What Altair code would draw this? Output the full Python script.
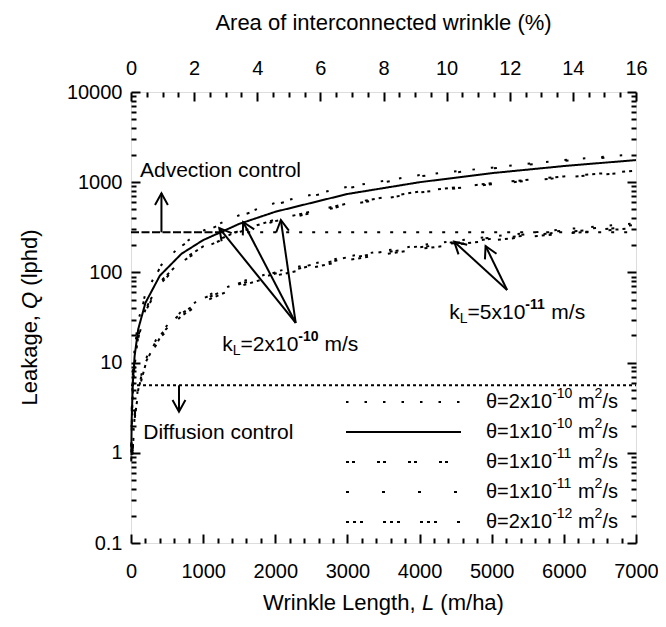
import math
import altair as alt
import pandas as pd

# ---------------- values ----------------
# upper family (k_L = 2x10^-10 m/s)
L_UP = [4, 10, 25, 50, 100, 200, 400, 700, 1000, 1500, 2000, 3000, 4000, 5000, 6000, 7000]
UP_2E10 = [1.2, 3.0, 7.4, 14.5, 29, 58, 116, 203, 290, 430, 590, 890, 1200, 1450, 1760, 2050]
UP_1E10 = [1.0, 2.4, 5.9, 11.8, 23.5, 46, 92, 161, 228, 345, 470, 740, 1000, 1260, 1510, 1760]
UP_1E11A = [0.8, 1.9, 4.6, 9.3, 18.6, 37, 74, 130, 186, 280, 370, 560, 770, 950, 1130, 1300]
UP_1E11B = [1.15, 2.9, 7.1, 14, 28, 56, 112, 196, 280, 420, 570, 860, 1160, 1420, 1720, 2000]
UP_2E12 = [0.85, 2.0, 4.9, 9.8, 19.5, 39, 78, 136, 194, 290, 385, 580, 790, 975, 1160, 1340]

# lower family (k_L = 5x10^-11 m/s)
L_LO = [20, 50, 100, 200, 400, 700, 1000, 1500, 2000, 3000, 4000, 5000, 6000, 7000]
LO_2E10 = [1.1, 2.7, 5.4, 10.8, 21.5, 37, 53, 78, 102, 150, 200, 250, 300, 350]
LO_1E11A = [1.0, 2.5, 5.0, 10, 20, 35, 50, 74, 97, 144, 190, 236, 280, 322]
LO_1E11B = [1.05, 2.6, 5.2, 10.4, 20.8, 36, 51.5, 76, 100, 147, 195, 243, 290, 336]
LO_2E12 = [0.95, 2.35, 4.7, 9.4, 18.8, 33, 47, 70, 92, 137, 182, 227, 270, 310]

KEYS = ["a", "b", "c", "d", "e"]
LEG_BASE = ["θ=2x10", "θ=1x10", "θ=1x10", "θ=1x10", "θ=2x10"]
LEG_EXP = ["-10", "-10", "-11", "-11", "-12"]
DASHES = [[2.5, 16], [1, 0], [3, 3, 3, 22], [3, 33], [3, 4, 3, 4, 3, 20]]

X_TICKS = list(range(0, 7001, 1000))
X_MINOR = [v for v in range(0, 7001, 200) if v % 1000]
P_TICKS = list(range(0, 17, 2))
P_MINOR = [v / 2 for v in range(0, 33) if v % 4]
Y_TICKS = [0.1, 1, 10, 100, 1000, 10000]
Y_MINOR = [m * 10.0 ** e for e in range(-1, 4) for m in range(2, 10)]

ADVECTION_Q = 278
ADV_SPLIT_L = 1250
DIFFUSION_Q = 5.6

# annotation anchors (data units)
ARROWS_L = [422, 665, 2283, 2283, 2283, 5213, 5213]
ARROWS_Q = [278, 5.6, 27.5, 27.5, 27.5, 63.8, 63.8]
TIPS_L = [422, 665, 1224, 1554, 2077, 4480, 4915]
TIPS_Q = [754, 2.86, 310, 362, 381, 219, 196]

# ---------------- layout ----------------
FONT = "Liberation Sans"
W, H = 505, 451
PL, PT, PR, PB = 123, 84, 22, 76


def px(L):
    return L / 7000 * W


def py(Q):
    return H - (math.log10(Q) + 1) / 5 * H


rows = []
for grp, Ls, series in [
    ("up", L_UP, [UP_2E10, UP_1E10, UP_1E11A, UP_1E11B, UP_2E12]),
    ("lo", L_LO, [LO_2E10, None, LO_1E11A, LO_1E11B, LO_2E12]),
]:
    for k, vals in zip(KEYS, series):
        if vals is None:
            continue
        for L, Q in zip(Ls, vals):
            rows.append({"L": L, "Q": Q, "key": k, "grp": grp + k})
curve_df = pd.DataFrame(rows)

xs = alt.Scale(domain=[0, 7000], nice=False, zero=False)
ys = alt.Scale(type="log", domain=[0.1, 10000], nice=False)
ps = alt.Scale(domain=[0, 16], nice=False, zero=False)

AX = dict(domain=False, grid=False, title=None, tickColor="black", labelColor="black",
          labelFont=FONT, labelFontSize=20, labelFlush=False, labelOverlap=False)

X = alt.X("L:Q", scale=xs, axis=alt.Axis(orient="bottom", values=X_TICKS, tickSize=9, offset=-9,
                                         tickWidth=2, labelPadding=18, format="d", **AX))
Y = alt.Y("Q:Q", scale=ys, axis=alt.Axis(orient="left", values=Y_TICKS, tickSize=9, offset=-9,
                                         tickWidth=2, labelPadding=9,
                                         labelExpr="datum.value < 1 ? '0.1' : format(datum.value, 'd')",
                                         **AX))

LEG_X, LEG_Y, ROW = 214, 300, 30
curves = alt.Chart(curve_df).mark_line(color="black", strokeWidth=2, strokeCap="butt").encode(
    x=X, y=Y,
    strokeDash=alt.StrokeDash("key:N", scale=alt.Scale(domain=KEYS, range=DASHES),
                              legend=alt.Legend(orient="none", legendX=LEG_X, legendY=LEG_Y, title=None,
                                                symbolType="stroke", symbolSize=115 ** 2,
                                                symbolStrokeWidth=2, symbolStrokeColor="black",
                                                labelFontSize=1, labelExpr="''",
                                                rowPadding=ROW - 20, clipHeight=20, padding=0)),
    detail="grp:N",
)

# legend labels (with real superscripts)
leg_df = pd.DataFrame({"i": list(range(len(KEYS))), "base": LEG_BASE, "exp": LEG_EXP})
row_y = alt.Y("i:Q", scale=alt.Scale(domain=[0, len(KEYS) - 1],
                                     range=[LEG_Y + 10, LEG_Y + 10 + ROW * (len(KEYS) - 1)]), axis=None)
LF, SF = 20, 14
lx0 = LEG_X + 115 + 26
w_base = 3.308 * LF
w_sup = 1.445 * SF
lb = alt.Chart(leg_df)
TXT = dict(align="left", baseline="middle", font=FONT, color="black")
leg_text = [
    lb.mark_text(fontSize=LF, **TXT).encode(x=alt.value(lx0), y=row_y, text="base:N"),
    lb.mark_text(fontSize=SF, dy=-8, **TXT).encode(x=alt.value(lx0 + w_base), y=row_y, text="exp:N"),
    lb.mark_text(fontSize=LF, text="m", **TXT).encode(
        x=alt.value(lx0 + w_base + w_sup + 0.278 * LF), y=row_y),
    lb.mark_text(fontSize=SF, dy=-8, text="2", **TXT).encode(
        x=alt.value(lx0 + w_base + w_sup + (0.278 + 0.833) * LF), y=row_y),
    lb.mark_text(fontSize=LF, text="/s", **TXT).encode(
        x=alt.value(lx0 + w_base + w_sup + (0.278 + 0.833) * LF + 0.556 * SF), y=row_y),
]

hl_df = pd.DataFrame({"L": [0, ADV_SPLIT_L, 0], "L2": [ADV_SPLIT_L, 7000, 7000],
                      "Q": [ADVECTION_Q, ADVECTION_Q, DIFFUSION_Q], "k": ["adv1", "adv2", "dif"]})
adv1 = alt.Chart(hl_df[hl_df.k == "adv1"]).mark_rule(color="black", strokeWidth=2, strokeDash=[8, 2.5]).encode(
    x=X, x2="L2:Q", y=Y)
adv2 = alt.Chart(hl_df[hl_df.k == "adv2"]).mark_rule(color="black", strokeWidth=2, strokeDash=[3, 10]).encode(
    x=X, x2="L2:Q", y=Y)
dif = alt.Chart(hl_df[hl_df.k == "dif"]).mark_rule(color="black", strokeWidth=2, strokeDash=[3, 3]).encode(
    x=X, x2="L2:Q", y=Y)

ang = []
for l0, q0, l1, q1 in zip(ARROWS_L, ARROWS_Q, TIPS_L, TIPS_Q):
    dx = px(l1) - px(l0)
    dy = py(q1) - py(q0)
    ang.append((math.degrees(math.atan2(dx, -dy)) + 360) % 360)
arr_df = pd.DataFrame({"L": ARROWS_L, "Q": ARROWS_Q, "L2": TIPS_L, "Q2": TIPS_Q, "ang": ang})
shafts = alt.Chart(arr_df).mark_rule(color="black", strokeWidth=2).encode(
    x=X, y=Y, x2="L2:Q", y2="Q2:Q")
head_df = pd.DataFrame({"L": TIPS_L, "Q": TIPS_Q, "ang": ang})
heads = alt.Chart(head_df).mark_point(shape="M -0.55 1 L 0 0 L 0.55 1", filled=False, size=548,
                                      strokeWidth=2, color="black", opacity=1).encode(
    x=X, y=Y, angle=alt.Angle("ang:Q", scale=None))

ctl_df = pd.DataFrame({"L": [124, 170], "Q": [1330, 1.66], "t": ["Advection control", "Diffusion control"]})
ctl = alt.Chart(ctl_df).mark_text(fontSize=21, **TXT).encode(x=X, y=Y, text="t:N")

kl_df = pd.DataFrame({"L": [1265, 4411], "Q": [15.7, 35.3], "num": ["=2x10", "=5x10"],
                      "exp": ["-10", "-11"]})
FS = 21
w_k = 0.5 * FS
w_L = 0.556 * 14
w_num = 2.752 * FS
w_exp = 1.445 * 14
kl_base = alt.Chart(kl_df)
kl = [
    kl_base.mark_text(fontSize=FS, text="k", **TXT).encode(x=X, y=Y),
    kl_base.mark_text(fontSize=14, text="L", dx=w_k, dy=6, **TXT).encode(x=X, y=Y),
    kl_base.mark_text(fontSize=FS, dx=w_k + w_L, **TXT).encode(x=X, y=Y, text="num:N"),
    kl_base.mark_text(fontSize=14, fontWeight="bold", dx=w_k + w_L + w_num, dy=-8, **TXT).encode(
        x=X, y=Y, text="exp:N"),
    kl_base.mark_text(fontSize=FS, text="m/s", dx=w_k + w_L + w_num + w_exp + 0.278 * FS, **TXT).encode(
        x=X, y=Y),
]

# axis titles (with italic variable names)
TF = 22
one = pd.DataFrame({"a": [0]})
x_t0 = W / 2 - (6.947 + 0.278 + 0.556 + 0.278 + 2.889) * TF / 2
y_t0 = H / 2 + (4.114 + 0.278 + 0.778 + 0.278 + 2.556) * TF / 2
oc = alt.Chart(one)
titles = [
    oc.mark_text(fontSize=TF, text="Area of interconnected wrinkle (%)",
                 **{**TXT, "align": "center"}).encode(x=alt.value(W / 2), y=alt.value(-69)),
    oc.mark_text(fontSize=TF, text="Wrinkle Length,", **TXT).encode(x=alt.value(x_t0), y=alt.value(H + 60)),
    oc.mark_text(fontSize=TF, fontStyle="italic", text="L", **TXT).encode(
        x=alt.value(x_t0 + (6.947 + 0.278) * TF), y=alt.value(H + 60)),
    oc.mark_text(fontSize=TF, text="(m/ha)", **TXT).encode(
        x=alt.value(x_t0 + (6.947 + 0.278 + 0.556 + 0.278) * TF), y=alt.value(H + 60)),
    oc.mark_text(fontSize=TF, angle=270, text="Leakage,", **TXT).encode(x=alt.value(-101), y=alt.value(y_t0)),
    oc.mark_text(fontSize=TF, angle=270, fontStyle="italic", text="Q", **TXT).encode(
        x=alt.value(-101), y=alt.value(y_t0 - (4.114 + 0.278) * TF)),
    oc.mark_text(fontSize=TF, angle=270, text="(lphd)", **TXT).encode(
        x=alt.value(-101), y=alt.value(y_t0 - (4.114 + 0.278 + 0.778 + 0.278) * TF)),
]

main = alt.layer(curves, adv1, adv2, dif, shafts, heads, ctl, *kl, *titles)

dummy = pd.DataFrame({"L": [0, 7000], "Q": [0.1, 10000], "P": [0, 16]})
NOLAB = dict(domain=False, grid=False, title=None, labels=False, tickColor="black")

aux1 = alt.Chart(dummy).mark_point(opacity=0).encode(
    x=alt.X("L:Q", scale=xs, axis=alt.Axis(orient="bottom", values=X_MINOR, tickSize=5, offset=-5,
                                           tickWidth=2, **NOLAB)),
    y=alt.Y("Q:Q", scale=ys, axis=alt.Axis(orient="left", values=Y_MINOR, tickSize=5, offset=-5,
                                           tickWidth=2, **NOLAB)),
)
aux2 = alt.Chart(dummy).mark_point(opacity=0).encode(
    x=alt.X("P:Q", scale=ps, axis=alt.Axis(orient="top", values=P_TICKS, tickSize=9, offset=-9,
                                           tickWidth=2, labelPadding=14, format="d", **AX)),
    y=alt.Y("Q:Q", scale=ys, axis=alt.Axis(orient="right", values=Y_TICKS, tickSize=9, offset=-9,
                                           tickWidth=2, **NOLAB)),
)
aux3 = alt.Chart(dummy).mark_point(opacity=0).encode(
    x=alt.X("P:Q", scale=ps, axis=alt.Axis(orient="top", values=P_MINOR, tickSize=5, offset=-5,
                                           tickWidth=2, **NOLAB)),
    y=alt.Y("Q:Q", scale=ys, axis=alt.Axis(orient="right", values=Y_MINOR, tickSize=5, offset=-5,
                                           tickWidth=2, **NOLAB)),
)
aux4 = alt.layer(*leg_text)

chart = alt.layer(main, aux1, aux2, aux3, aux4).resolve_scale(
    x="independent", y="independent"
).properties(
    width=W, height=H,
    autosize=alt.AutoSizeParams(type="none"),
    padding={"left": PL, "top": PT, "right": PR, "bottom": PB},
).configure_view(stroke="black", strokeWidth=2).configure(font=FONT)

chart.save("out.html", embed_options={"renderer": "svg", "actions": False})
